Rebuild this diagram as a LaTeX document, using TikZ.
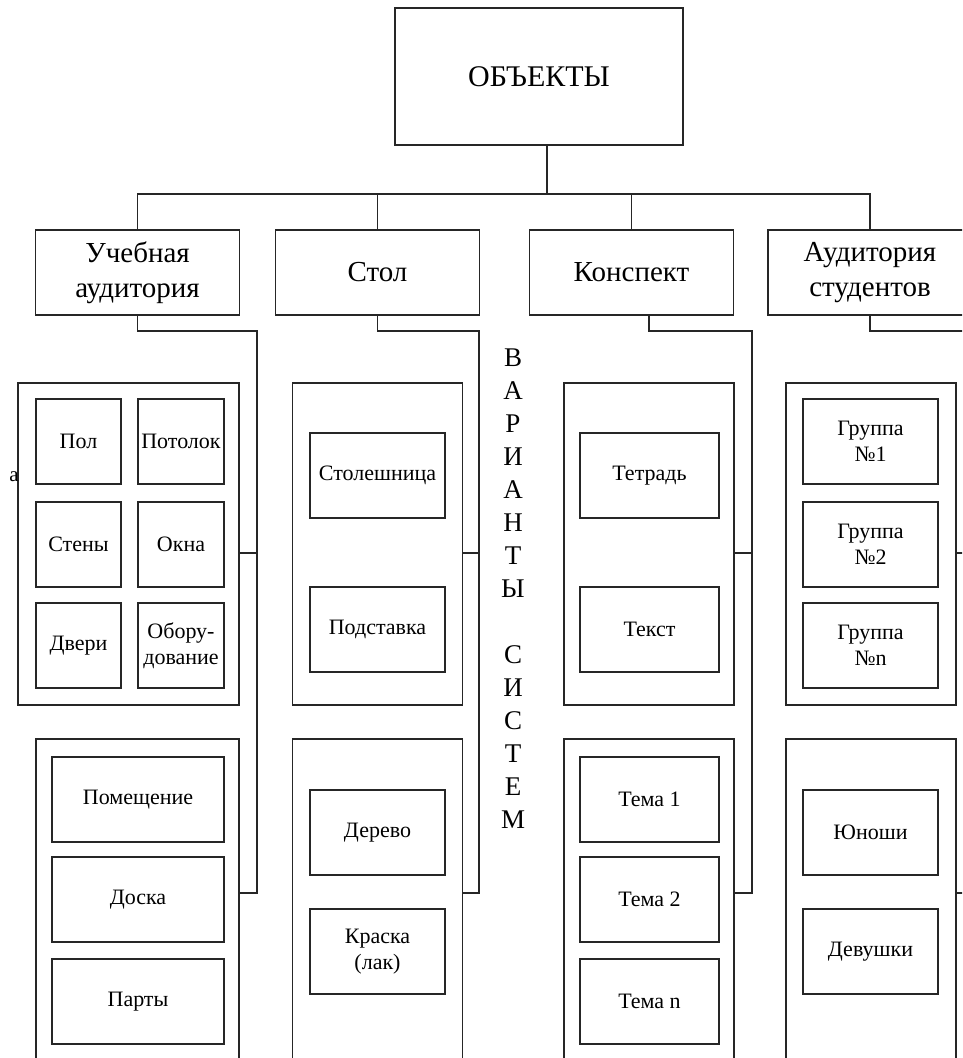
\documentclass[tikz,border=0pt]{standalone}
\usepackage{fontspec}
\setmainfont{Liberation Serif}
\usetikzlibrary{positioning}

\begin{document}
\begin{tikzpicture}[x=1pt,y=-1pt,line width=1.5pt,
   every node/.style={inner sep=0pt,outer sep=0pt},
   head/.style={draw=black!85,minimum width=288pt,minimum height=137pt,font=\fontsize{30}{34}\selectfont},
   kind/.style={draw=black!85,minimum width=204pt,minimum height=85pt,align=center,font=\fontsize{29}{35}\selectfont},
   grp/.style={draw=black!85,minimum width=170pt},
   cell/.style={draw=black!85,minimum height=85pt,align=center,font=\fontsize{22}{26}\selectfont},
   wire/.style={draw=black!85}]
   \useasboundingbox (0,0) rectangle (962,1058);
   \clip (0,0) rectangle (962,1058);

   \node[head] (obj) at (539,76.5) {ОБЪЕКТЫ};

   \node[kind] (aud) at (137.5,272.5) {Учебная\\аудитория};
   \node[kind] (stol) at (377.5,272.5) {Стол};
   \node[kind] (konsp) at (631.5,272.5) {Конспект};
   \node[kind] (stud) at (870,272.5) {Аудитория\\студентов};

   % рамки вариантов
   \node[grp,minimum width=221pt,minimum height=322pt] (g1a) at (128.5,544) {};
   \node[grp,minimum height=322pt] (g2a) at (377.5,544) {};
   \node[grp,minimum height=322pt] (g3a) at (649,544) {};
   \node[grp,minimum height=322pt] (g4a) at (871,544) {};
   \node[grp,minimum width=203pt,minimum height=341pt] (g1b) at (137.5,909.5) {};
   \node[grp,minimum height=341pt] (g2b) at (377.5,909.5) {};
   \node[grp,minimum height=341pt] (g3b) at (649,909.5) {};
   \node[grp,minimum height=341pt] (g4b) at (871,909.5) {};

   % Учебная аудитория
   \node[cell,minimum width=85pt] (pol) at (78.5,441.5) {Пол};
   \node[cell,minimum width=86pt] (potolok) [right=17pt of pol] {Потолок};
   \node[cell,minimum width=85pt] (steny) [below=18pt of pol] {Стены};
   \node[cell,minimum width=86pt] (okna) [right=17pt of steny] {Окна};
   \node[cell,minimum width=85pt] (dveri) [below=16pt of steny] {Двери};
   \node[cell,minimum width=86pt] (oborud) [right=17pt of dveri] {Обору-\\дование};
   \node[cell,minimum width=172pt] (pomesh) at (138,799.5) {Помещение};
   \node[cell,minimum width=172pt] (doska) [below=15pt of pomesh] {Доска};
   \node[cell,minimum width=172pt] (party) [below=17pt of doska] {Парты};

   % Стол
   \node[cell,minimum width=135pt] (stolesh) at (377.5,475.5) {Столешница};
   \node[cell,minimum width=135pt] (podst) [below=69pt of stolesh] {Подставка};
   \node[cell,minimum width=135pt] (derevo) at (377.5,832.5) {Дерево};
   \node[cell,minimum width=135pt] (kraska) [below=34pt of derevo] {Краска\\(лак)};

   % Конспект
   \node[cell,minimum width=139pt] (tetrad) at (649.5,475.5) {Тетрадь};
   \node[cell,minimum width=139pt] (tekst) [below=69pt of tetrad] {Текст};
   \node[cell,minimum width=139pt] (tema1) at (649.5,799.5) {Тема 1};
   \node[cell,minimum width=139pt] (tema2) [below=15pt of tema1] {Тема 2};
   \node[cell,minimum width=139pt] (teman) [below=17pt of tema2] {Тема n};

   % Аудитория студентов
   \node[cell,minimum width=135pt] (gr1) at (870.5,441.5) {Группа\\№1};
   \node[cell,minimum width=135pt] (gr2) [below=18pt of gr1] {Группа\\№2};
   \node[cell,minimum width=135pt] (grn) [below=16pt of gr2] {Группа\\№n};
   \node[cell,minimum width=135pt] (yunoshi) at (870.5,832.5) {Юноши};
   \node[cell,minimum width=135pt] (devushki) [below=34pt of yunoshi] {Девушки};

   \node[font=\fontsize{27}{33}\selectfont,align=center] (var) at (513,588.5)
      {В\\А\\Р\\И\\А\\Н\\Т\\Ы\\[33pt]С\\И\\С\\Т\\Е\\М};
   \node[font=\fontsize{21}{25}\selectfont] (note) at (14,477) {а};

   % связи
   \draw[wire] ([xshift=8pt]obj.south) -- ++(0,49) coordinate (bus);
   \draw[wire] (aud.north) |- (bus) -| (stud.north);
   \draw[wire] (stol.north) -- (stol.north |- bus);
   \draw[wire] (konsp.north) -- (konsp.north |- bus);
   \foreach \a/\b/\c/\s/\d in {aud/g1a/g1b/257/0, stol/g2a/g2b/479/0,
                               konsp/g3a/g3b/752/17.5, stud/g4a/g4b/990/0}
   {
      \draw[wire] ([xshift=\d pt]\a.south) |- (\s,331) -- (\s,893) -- (\c.east |- 0,893);
      \draw[wire] (\b.east |- 0,553) -- (\s,553);
   }
\end{tikzpicture}
\end{document}
